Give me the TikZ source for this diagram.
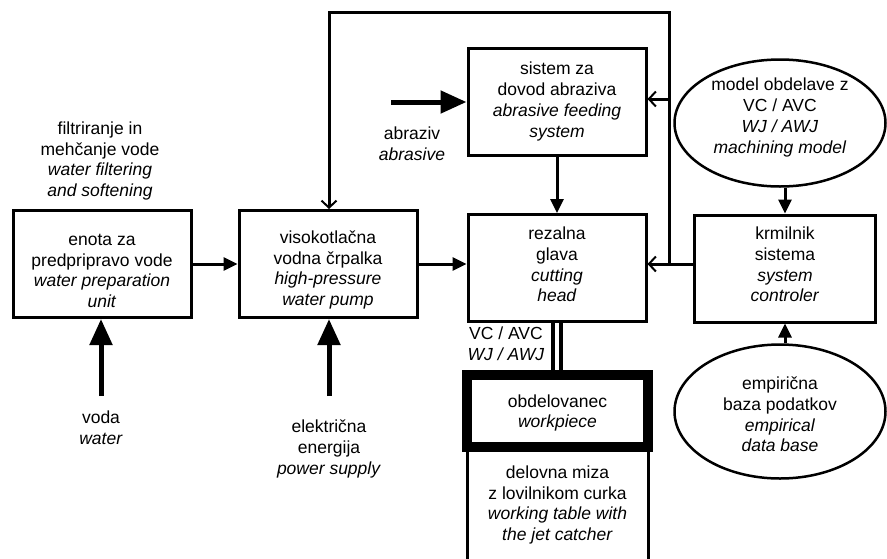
\documentclass[tikz,border=0pt]{standalone}
\usepackage{fontspec}
\setmainfont{Liberation Sans}
\usetikzlibrary{arrows.meta,shapes.geometric}
\begin{document}
\begin{tikzpicture}[x=1pt,y=-1pt,
 box/.style={draw,line width=3pt,minimum width=178pt,minimum height=107pt,inner sep=0pt},
 ell/.style={draw,ellipse,line width=2.5pt,minimum width=211pt,inner sep=0pt},
 txt/.style={align=center,inner sep=0pt},
 lnk/.style={line width=3pt,-{Triangle[length=14pt,width=13pt]}},
 fb/.style={line width=3pt,line join=miter,-{Straight Barb[length=7pt,width=15pt,line width=2pt]}},
 big/.style={line width=5pt,-{Triangle[length=26pt,width=22pt]}},
 font=\fontsize{17.5}{20.7}\selectfont]
\useasboundingbox[fill=white] (0,0) rectangle (887,558);
% boxes
\node[box,label={[txt,yshift=-7pt]center:{enota za\\predpripravo vode\\\textit{water preparation}\\\textit{unit}}}] (prep) at (102,264) {};
\node[box,label={[txt,yshift=-6pt]center:{visokotlačna\\vodna črpalka\\\textit{high-pressure}\\\textit{water pump}}}] (pump) at (328,264) {};
\node[box,label={[txt,yshift=3.5pt]center:{rezalna\\glava\\\textit{cutting}\\\textit{head}}}] (head) at (557,268) {};
\node[box,label={[txt]center:{sistem za\\dovod abraziva\\\textit{abrasive feeding}\\\textit{system}}}] (abr) at (557,101.5) {};
\node[box,minimum width=181pt,label={[txt,yshift=4pt]center:{krmilnik\\sistema\\\textit{system}\\\textit{controler}}}] (ctrl) at (785,268.5) {};
\node[ell,minimum height=127pt,label={[txt,yshift=5.5pt]center:{model obdelave z\\VC / AVC\\\textit{WJ / AWJ}\\\textit{machining model}}}] (model) at (780,123) {};
\node[ell,minimum height=134pt,label={[txt,yshift=-3pt]center:{empirična\\baza podatkov\\\textit{empirical}\\\textit{data base}}}] (emp) at (780,411.5) {};
\node[draw,line width=10pt,minimum width=181pt,minimum height=72pt,inner sep=0pt,label={[txt,yshift=-2pt]center:{obdelovanec\\\textit{workpiece}}}] (wp) at (557.5,411) {};
\node[txt] (table) at (557.5,505) {delovna miza\\z lovilnikom curka\\\textit{working table with}\\\textit{the jet catcher}};
\draw[line width=3pt] (467,451) -- (467,560);
\draw[line width=3pt] (648,451) -- (648,560);
% labels
\node[txt] (filt) at (100,161) {filtriranje in\\mehčanje vode\\\textit{water filtering}\\\textit{and softening}};
\node[txt] (abrlab) at (412,143.5) {abraziv\\\textit{abrasive}};
\node[txt] (voda) at (101,428) {voda\\\textit{water}};
\node[txt] (elek) at (329,449) {električna\\energija\\\textit{power supply}};
\node[txt] (vc) at (506,344) {VC / AVC\\\textit{WJ / AWJ}};
% jet
\draw[line width=4pt] ([xshift=-4pt]head.south) -- ([xshift=-4pt]head.south |- wp.north);
\draw[line width=4pt] ([xshift=4pt]head.south) -- ([xshift=4pt]head.south |- wp.north);
% flow arrows
\draw[lnk] (prep.east) -- (pump.west);
\draw[lnk] (pump.east) -- (head.west |- pump.east);
\draw[lnk] (abr.south) -- (head.north);
\draw[lnk] (model.south -| ctrl.north) -- (ctrl.north);
\draw[lnk] (emp.north -| ctrl.south) -- (ctrl.south);
% inputs
\coordinate (wsrc) at (101,396);
\coordinate (esrc) at (329,396);
\coordinate (asrc) at (391,102);
\draw[big] (wsrc) -- (prep.south -| wsrc);
\draw[big] (esrc) -- (pump.south -| esrc);
\draw[big] (asrc) -- (abr.west |- asrc);
% feedback
\coordinate (j) at (669,264);
\coordinate (jt) at (669,12);
\coordinate (lt) at (329,12);
\coordinate (ja) at (669,99);
\draw[fb] (ctrl.west |- j) -- (head.east |- j);
\draw[fb] (j) -- (jt) -- (lt) -- (pump.north -| lt);
\draw[fb] (ja) -- (abr.east |- ja);
\end{tikzpicture}
\end{document}
